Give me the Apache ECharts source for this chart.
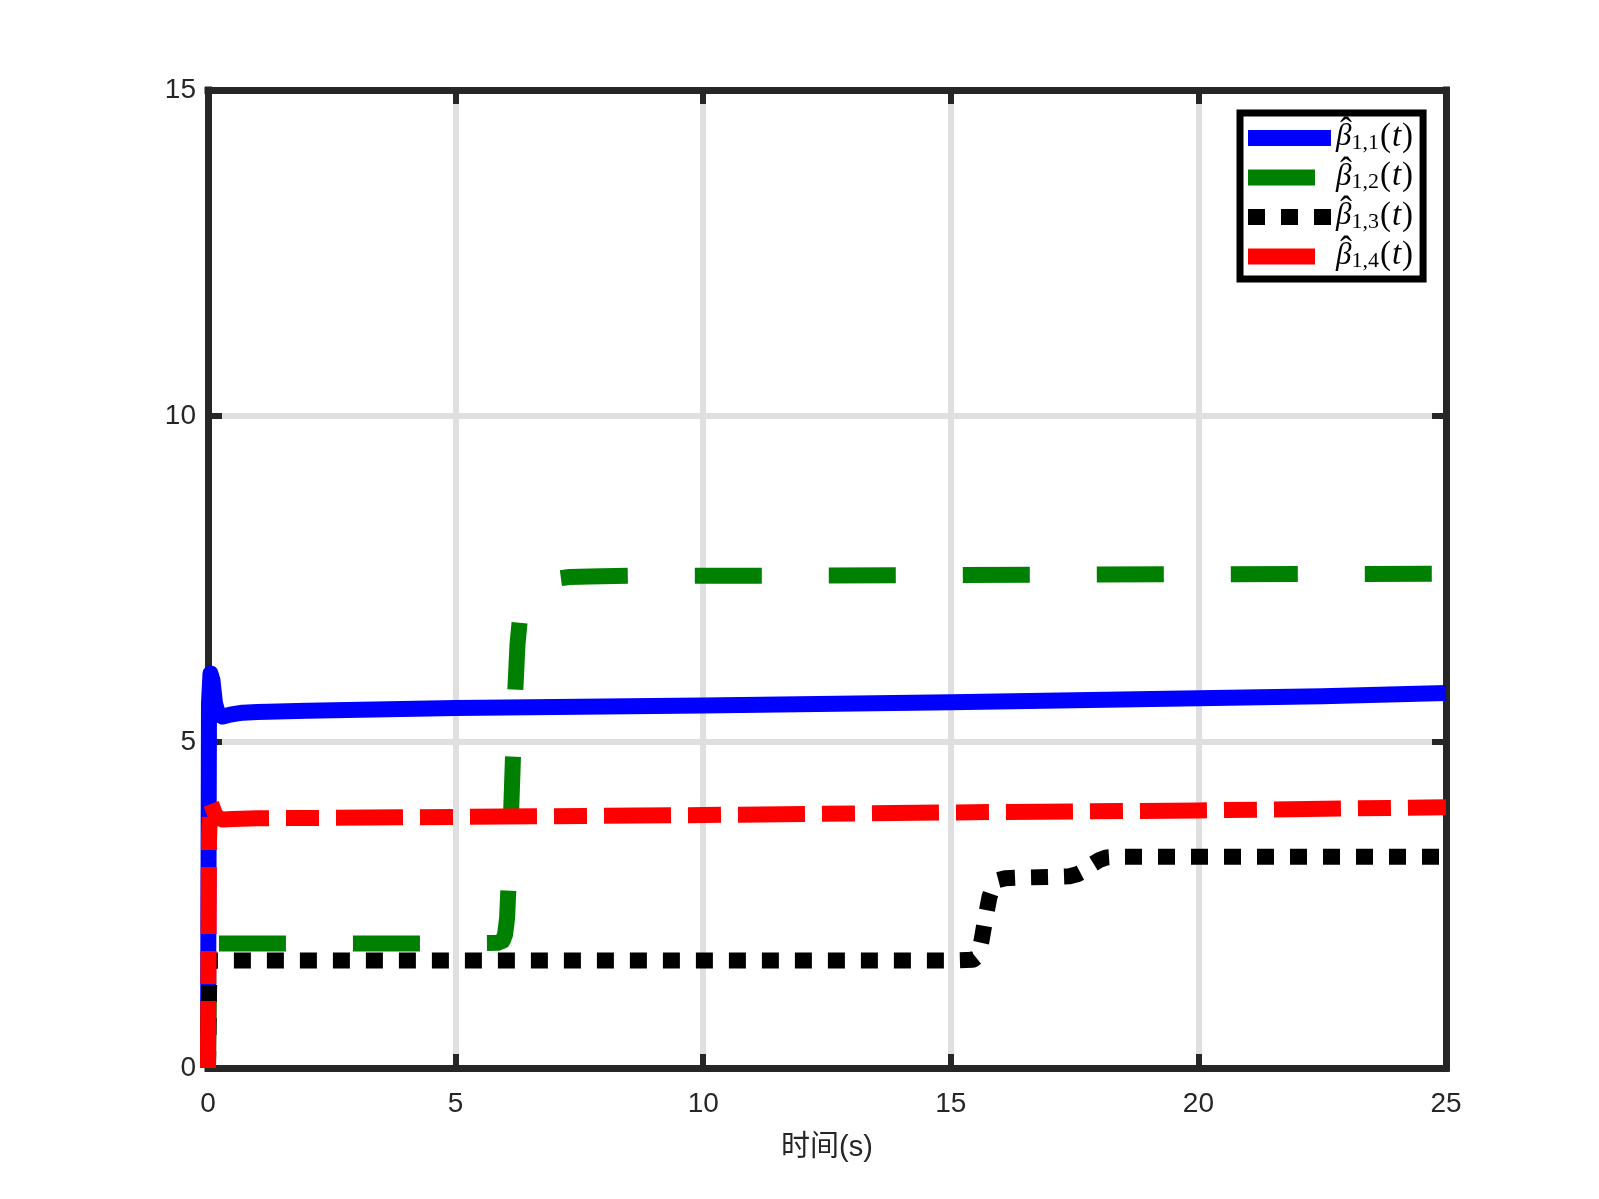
<!DOCTYPE html>
<html>
<head>
<meta charset="utf-8">
<script src="https://cdn.jsdelivr.net/npm/echarts@6/dist/echarts.min.js"></script>
<style>html,body{margin:0;padding:0;background:#fff}#c{width:1599px;height:1199px}</style>
</head>
<body>
<div id="c"></div>
<script>
// ---- data ----
const xTicks = [0, 5, 10, 15, 20, 25];
const yTicks = [0, 5, 10, 15];
const seriesNames = ['b11', 'b12', 'b13', 'b14'];
const subscripts = ['1,1', '1,2', '1,3', '1,4'];

const b11T = [0, 0.02, 0.05, 0.09, 0.14, 0.2, 0.3, 0.45, 0.7, 1, 2, 5, 10, 15, 20, 22.5, 25];
const b11V = [0, 5.6, 6.05, 5.95, 5.6, 5.43, 5.39, 5.42, 5.45, 5.46, 5.48, 5.52, 5.56, 5.61, 5.67, 5.7, 5.75];

const b12T = [0, 0.03, 0.1, 1, 5, 5.85, 5.95, 6.0, 6.04, 6.08, 6.12, 6.16, 6.2, 6.25, 6.3, 6.4, 6.55, 6.75, 7.0, 7.3, 7.7, 8.5, 12, 18, 25];
const b12V = [0, 1.91, 1.91, 1.91, 1.91, 1.92, 1.95, 2.05, 2.3, 3.0, 3.9, 4.8, 5.7, 6.5, 6.9, 7.15, 7.32, 7.44, 7.5, 7.53, 7.54, 7.55, 7.55, 7.57, 7.58];

const b13T = [0, 0.03, 0.1, 5, 10, 15, 15.45, 15.55, 15.62, 15.7, 15.78, 15.86, 15.95, 16.1, 16.4, 17.0, 17.4, 17.55, 17.7, 17.85, 18.0, 18.15, 18.35, 20, 25];
const b13V = [0, 1.65, 1.65, 1.65, 1.65, 1.65, 1.66, 1.72, 1.95, 2.3, 2.62, 2.8, 2.88, 2.91, 2.92, 2.93, 2.94, 2.97, 3.03, 3.12, 3.19, 3.23, 3.24, 3.24, 3.24];

const b14T = [0, 0.02, 0.05, 0.09, 0.14, 0.2, 0.3, 0.5, 1, 5, 10, 15, 20, 25];
const b14V = [0, 3.5, 4.08, 4.0, 3.9, 3.84, 3.81, 3.82, 3.83, 3.85, 3.88, 3.92, 3.95, 4.0];

const colors = ['#0000ff', '#008000', '#000000', '#ff0000'];
const dashes = ['solid', [67, 67], [17, 16], [67, 17, 33, 17]];

function pairs(t, v) { return t.map((x, i) => [x, v[i]]); }
const allData = [pairs(b11T, b11V), pairs(b12T, b12V), pairs(b13T, b13V), pairs(b14T, b14V)];

const chart = echarts.init(document.getElementById('c'), null, {renderer: 'canvas'});
const AX = '#262626';
const FONT = "'Liberation Sans', Arial, 'Noto Sans CJK SC', sans-serif";
const SERIF = "'Liberation Serif', 'Times New Roman', serif";
const gridPos = {left: 208, right: 153, top: 90, bottom: 131};

function frameAxis(pos, isX) {
  return {
    gridIndex: 1, type: 'value', position: pos, z: 1,
    min: isX ? xTicks[0] : yTicks[0],
    max: isX ? xTicks[xTicks.length - 1] : yTicks[yTicks.length - 1],
    interval: 5,
    axisLine: {show: true, onZero: false, lineStyle: {color: AX, width: 7, cap: 'square'}},
    axisTick: {show: true, inside: true, length: 14, lineStyle: {color: AX, width: 6}},
    axisLabel: {show: false},
    splitLine: {show: false}
  };
}

const option = {
  animation: false,
  backgroundColor: '#ffffff',
  grid: [Object.assign({}, gridPos), Object.assign({}, gridPos)],
  xAxis: [
    {
      gridIndex: 0, type: 'value', position: 'bottom', z: 0,
      min: xTicks[0], max: xTicks[xTicks.length - 1], interval: 5,
      axisLine: {show: false}, axisTick: {show: false},
      axisLabel: {show: true, margin: 22, color: AX, fontSize: 28, fontFamily: FONT},
      splitLine: {show: true, showMinLine: false, showMaxLine: false, lineStyle: {color: '#dfdfdf', width: 6}},
      name: '时间(s)', nameLocation: 'middle', nameGap: 65,
      nameTextStyle: {color: AX, fontSize: 29, fontFamily: FONT}
    },
    frameAxis('bottom', true),
    frameAxis('top', true)
  ],
  yAxis: [
    {
      gridIndex: 0, type: 'value', position: 'left', z: 0,
      min: yTicks[0], max: yTicks[yTicks.length - 1], interval: 5,
      axisLine: {show: false}, axisTick: {show: false},
      axisLabel: {show: true, margin: 12, color: AX, fontSize: 28, fontFamily: FONT, padding: [10, 0, 0, 0]},
      splitLine: {show: true, showMinLine: false, showMaxLine: false, lineStyle: {color: '#dfdfdf', width: 6}}
    },
    frameAxis('left', false),
    frameAxis('right', false)
  ],
  legend: {
    orient: 'vertical', left: 1240, top: 113,
    itemWidth: 83, itemHeight: 16, itemGap: -5,
    padding: [2, 10, 1, 0],
    backgroundColor: '#ffffff', borderColor: '#000000', borderWidth: 7, borderRadius: 0,
    z: 10,
    lineStyle: {width: 16},
    data: seriesNames,
    formatter: function (name) {
      const i = seriesNames.indexOf(name);
      return '{h|\u02C6}\n{b|β}{s|' + subscripts[i] + '}{p|(}{i|t}{p|)}';
    },
    textStyle: {
      rich: {
        h: {fontFamily: SERIF, fontSize: 36, color: '#000', lineHeight: 4, padding: [0, 0, 0, 4]},
        b: {fontFamily: SERIF, fontStyle: 'italic', fontSize: 31, color: '#000', lineHeight: 10, padding: [0, 0, 6, 0]},
        s: {fontFamily: SERIF, fontSize: 22, color: '#000', lineHeight: 10, padding: [6, 1, 0, 0]},
        p: {fontFamily: SERIF, fontSize: 33, color: '#000', lineHeight: 10, padding: [0, 0, 6, 0]},
        i: {fontFamily: SERIF, fontStyle: 'italic', fontSize: 33, color: '#000', lineHeight: 10, padding: [0, 1, 6, 1]}
      }
    }
  },
  series: seriesNames.map((n, i) => ({
    name: n, type: 'line', xAxisIndex: 0, yAxisIndex: 0, z: 2,
    data: allData[i],
    symbol: 'none', showSymbol: false, smooth: false,
    lineStyle: {color: colors[i], width: 16, type: dashes[i], cap: 'butt', join: 'round'},
    itemStyle: {color: colors[i]},
    emphasis: {disabled: true}
  }))
};
chart.setOption(option);
</script>
</body>
</html>
